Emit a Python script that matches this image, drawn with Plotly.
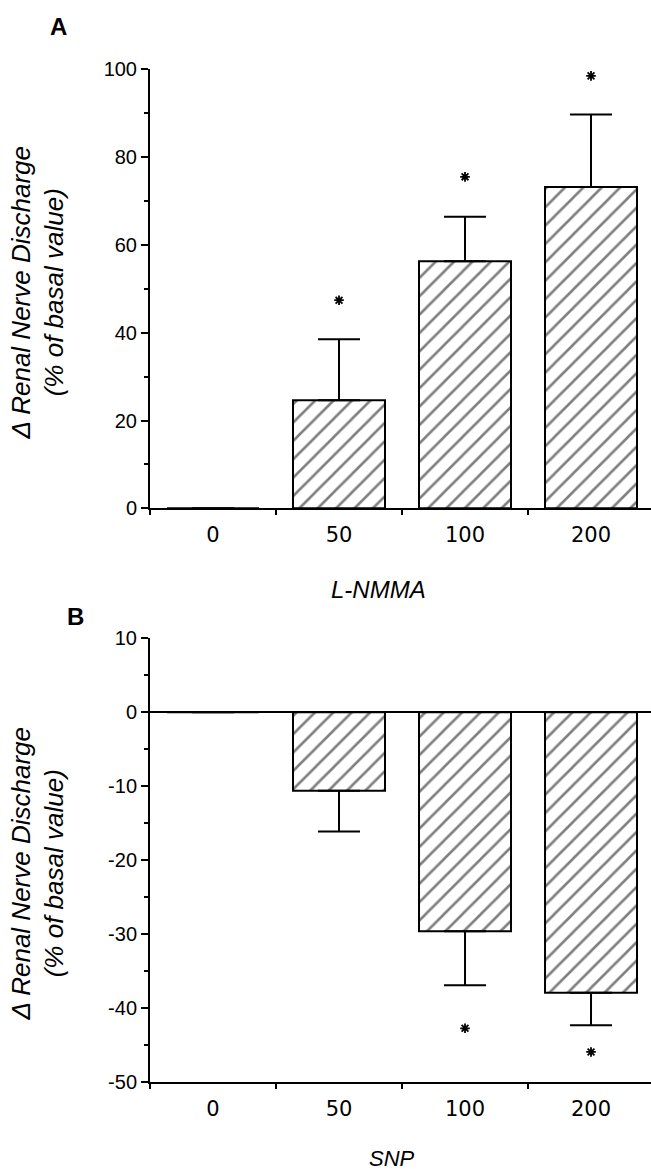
import plotly.graph_objects as go

# ---- data ----
doses = ["0", "50", "100", "200"]

lnmma_mean = [0, 24.6, 56.3, 73.2]
lnmma_sem = [0, 13.9, 10.1, 16.5]
lnmma_star = [None, 47.4, 75.5, 98.5]

snp_mean = [0, -10.6, -29.6, -37.9]
snp_sem = [0, 5.5, 7.3, 4.4]
snp_star = [None, None, -42.7, -45.9]

a_ticks = [0, 20, 40, 60, 80, 100]
a_ticktext = ["0", "20", "40", "60", "80", "100"]
b_ticks = [10, 0, -10, -20, -30, -40, -50]
b_ticktext = ["10", "0", "-10", "-20", "-30", "-40", "-50"]

W, H = 651, 1174
FONT = "Liberation Sans, Arial, Helvetica, sans-serif"
XFONT = "DejaVu Sans, Liberation Sans, sans-serif"

bar_style = dict(
    color="white",
    line=dict(color="black", width=2),
    pattern=dict(shape="/", fgcolor="black", bgcolor="white", size=13, solidity=0.2),
)
star_marker = dict(symbol="asterisk-open", size=8, color="black",
                   line=dict(color="black", width=1.8))

fig = go.Figure()

# Panel A
fig.add_trace(go.Bar(
    x=doses, y=lnmma_mean, width=0.73, marker=bar_style,
    error_y=dict(type="data", symmetric=False, array=lnmma_sem,
                 arrayminus=[0] * len(lnmma_sem), color="black", thickness=2, width=21),
    xaxis="x", yaxis="y", showlegend=False, hoverinfo="skip",
))
fig.add_trace(go.Scatter(
    x=doses, y=lnmma_star, mode="markers", marker=star_marker,
    xaxis="x", yaxis="y", showlegend=False, hoverinfo="skip",
))

# Panel B
fig.add_trace(go.Bar(
    x=doses, y=snp_mean, width=0.73, marker=bar_style,
    error_y=dict(type="data", symmetric=False, array=[0] * len(snp_sem),
                 arrayminus=snp_sem, color="black", thickness=2, width=21),
    xaxis="x2", yaxis="y2", showlegend=False, hoverinfo="skip",
))
fig.add_trace(go.Scatter(
    x=doses, y=snp_star, mode="markers", marker=star_marker,
    xaxis="x2", yaxis="y2", showlegend=False, hoverinfo="skip",
))


def px_x(p):
    return p / W


def px_y(p):
    return 1 - p / H


x_common = dict(
    type="category", showline=True, linecolor="black", linewidth=2,
    ticks="outside", tickson="boundaries", ticklen=5, tickwidth=2, tickcolor="black",
    showgrid=False, zeroline=False, automargin=False,
    tickfont=dict(family=XFONT, size=21, color="black"),
    ticklabelstandoff=6,
)
y_common = dict(
    showline=True, linecolor="black", linewidth=2,
    ticks="outside", ticklen=7, tickwidth=2, tickcolor="black",
    showgrid=False, automargin=False,
    tickfont=dict(family=FONT, size=20, color="black"),
)

fig.update_layout(
    width=W, height=H,
    margin=dict(l=0, r=0, t=0, b=0, pad=0),
    paper_bgcolor="white", plot_bgcolor="white",
    font=dict(family=FONT, color="black"),
    xaxis=dict(x_common, domain=[px_x(150), 1], range=[-0.5, 3.476], anchor="y"),
    yaxis=dict(y_common, domain=[px_y(508.3), px_y(69.3)], range=[0, 100],
               tickvals=a_ticks, ticktext=a_ticktext, zeroline=False, anchor="x",
               minor=dict(ticks="outside", ticklen=4, tickwidth=2, tickcolor="black", dtick=10)),
    xaxis2=dict(x_common, domain=[px_x(150), 1], range=[-0.5, 3.476], anchor="y2"),
    yaxis2=dict(y_common, domain=[px_y(1082.3), px_y(638.3)], range=[-50, 10],
                tickvals=b_ticks, ticktext=b_ticktext, anchor="x2",
                zeroline=True, zerolinecolor="black", zerolinewidth=2,
                minor=dict(ticks="outside", ticklen=4, tickwidth=2, tickcolor="black", dtick=5)),
)

title_txt = "<i>Δ Renal Nerve Discharge<br>(% of basal value)</i>"
annos = [
    dict(text="<b>A</b>", x=px_x(58), y=px_y(27), font=dict(size=24)),
    dict(text="<b>B</b>", x=px_x(75.5), y=px_y(616), font=dict(size=24)),
    dict(text=title_txt, x=px_x(37.5), y=px_y(293), textangle=-90, font=dict(size=26)),
    dict(text=title_txt, x=px_x(37.5), y=px_y(874), textangle=-90, font=dict(size=26)),
    dict(text="<i>L-NMMA</i>", x=px_x(378.5), y=px_y(589), font=dict(size=24)),
    dict(text="<i>SNP</i>", x=px_x(392), y=px_y(1158), font=dict(size=22)),
]
for a in annos:
    fig.add_annotation(xref="paper", yref="paper", xanchor="center", yanchor="middle",
                       showarrow=False, **a)

fig.write_html(
    "out.html",
    config={"displayModeBar": False},
    post_script="document.body.style.margin='0';document.body.style.overflow='hidden';",
)
